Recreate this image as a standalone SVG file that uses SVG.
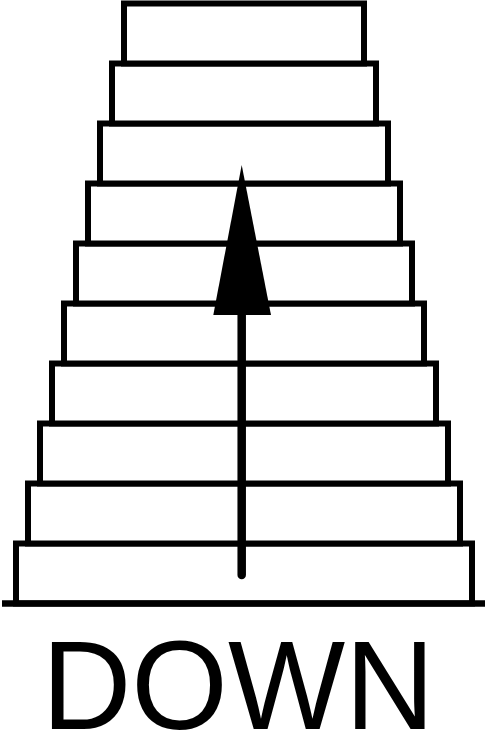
<svg xmlns="http://www.w3.org/2000/svg" width="487" height="733" viewBox="0 0 487 733">
<style>
.step{fill:#fff;stroke:#000;stroke-width:6;stroke-linejoin:miter}
.ground{stroke:#000;stroke-width:6.5}
.shaft{stroke:#000;stroke-width:8.5;stroke-linecap:round}
.head{fill:#000}
.label{font-family:"Liberation Sans",Arial,sans-serif;font-size:127px;fill:#000}
</style>
<rect width="487" height="733" fill="#fff"/>
<g id="stairs">
<rect class="step" x="16" y="543.5" width="456" height="60"/>
<rect class="step" x="28" y="483.5" width="432" height="60"/>
<rect class="step" x="40" y="423.5" width="408" height="60"/>
<rect class="step" x="52" y="363.5" width="384" height="60"/>
<rect class="step" x="64" y="303.5" width="360" height="60"/>
<rect class="step" x="76" y="243.5" width="336" height="60"/>
<rect class="step" x="88" y="183.5" width="312" height="60"/>
<rect class="step" x="100" y="123.5" width="288" height="60"/>
<rect class="step" x="112" y="63.5" width="264" height="60"/>
<rect class="step" x="124" y="3.5" width="240" height="60"/>
<line class="ground" x1="2" y1="603.5" x2="485" y2="603.5"/>
</g>
<g id="arrow">
<line class="shaft" x1="241.7" y1="575" x2="241.7" y2="310"/>
<polygon class="head" points="241.7,165 271,315 213.3,315"/>
</g>
<g id="label">
<text class="label" x="41.7" y="729.3" textLength="393" lengthAdjust="spacingAndGlyphs">DOWN</text>
</g>
</svg>
